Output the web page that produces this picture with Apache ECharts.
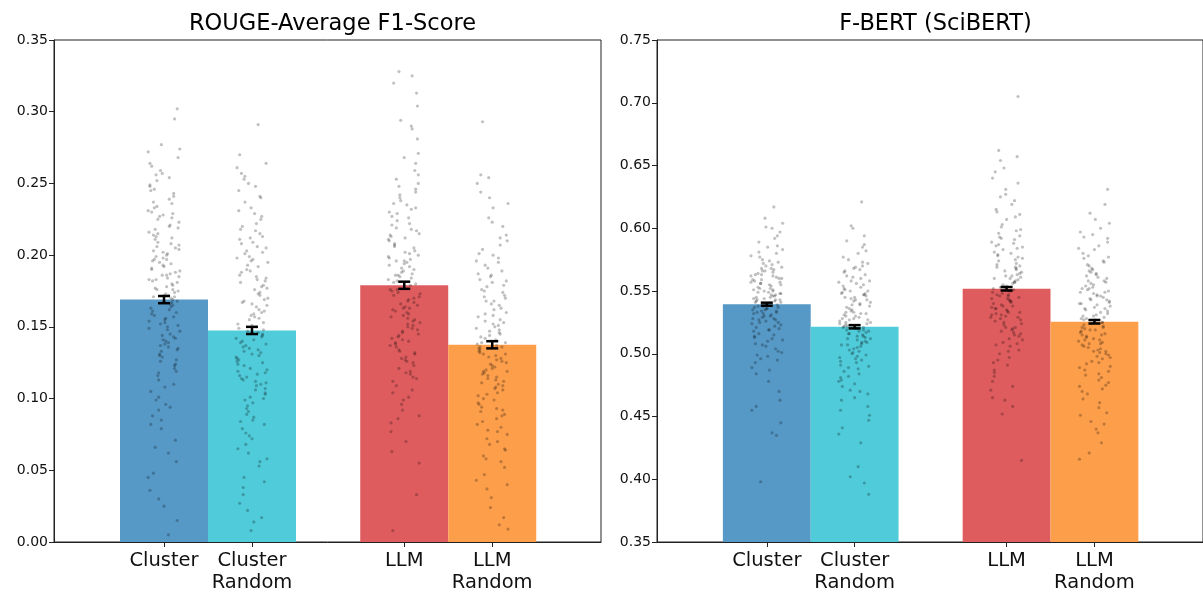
<!DOCTYPE html>
<html>
<head>
<meta charset="utf-8">
<script src="https://cdn.jsdelivr.net/npm/echarts@6/dist/echarts.min.js"></script>
<style>
html,body{margin:0;padding:0;background:#fff;}
#chart{width:1203px;height:594px;}
</style>
</head>
<body>
<div id="chart"></div>
<script>
// ---------------- DATA ----------------
const categories = ['Cluster', 'Cluster\nRandom', 'LLM', 'LLM\nRandom'];
const panelTitles = ['ROUGE-Average F1-Score', 'F-BERT (SciBERT)'];

// bar means
const rougeMeans = [0.169, 0.1475, 0.179, 0.1375];
const fbertMeans = [0.5395, 0.5215, 0.5518, 0.5255];
// standard errors
const rougeErr = [0.0025, 0.0025, 0.0025, 0.0025];
const fbertErr = [0.0012, 0.0013, 0.0014, 0.0014];

// y-axis ticks
const rougeTicks = {min: 0.00, max: 0.35, interval: 0.05};
const fbertTicks = {min: 0.35, max: 0.75, interval: 0.05};

// individual scores (in thousandths)
const rougeCluster = [214,187,302,133,169,248,96,176,205,141,223,158,62,191,236,118,172,295,149,201,
 183,127,257,164,88,219,195,138,177,243,105,162,209,274,152,186,45,229,171,124,
 198,145,264,181,113,156,233,167,79,207,190,136,252,174,25,216,160,99,184,227,
 143,196,268,129,170,211,153,82,239,188,116,178,203,147,259,165,36,221,193,134,
 246,173,92,212,159,185,277,139,199,121,231,168,56,206,150,182,241,130,175,218,
 108,194,163,254,144,71,225,179,154,200,15,237,166,126,189,213,140,262,157,101,
 180,228,135,197,5,249,171,85,208,161,192,119,234,148,272,176,131,204,66,220,
 186,142,245,155,110,215,168,48,197,137,226,183,94,256,151,202,123,230,172,30];
const rougeClusterRandom = [291,152,118,203,87,167,241,135,58,186,109,255,144,72,198,161,123,217,95,178,
 139,264,101,156,33,209,127,183,148,76,229,114,170,250,132,65,192,158,104,220,
 141,89,174,270,120,199,150,45,213,129,166,82,237,112,181,143,22,205,136,97,
 162,245,117,189,153,68,225,126,176,107,257,146,91,195,133,14,211,160,115,172,
 233,138,79,185,124,202,155,53,218,131,169,99,248,142,110,193,165,38,206,121,
 179,149,85,227,137,103,188,157,62,215,128,173,253,111,196,145,27,164,93,208,
 134,182,74,240,119,159,201,100,8,177,140,222,116,56,190,151,125,261,106,168,
 42,212,130,84,184,147,197,113,17,231];
const rougeLLM = [328,187,142,215,96,169,253,131,199,178,313,224,156,112,205,185,271,138,164,232,
 83,192,147,246,174,125,210,160,304,181,119,238,153,196,70,221,167,134,288,189,
 145,207,101,176,259,128,218,162,194,33,229,150,183,115,242,171,139,201,92,264,
 157,212,123,186,148,320,235,166,106,198,179,136,250,158,203,63,226,144,172,117,
 281,191,151,214,129,182,244,163,88,208,140,175,325,121,196,155,230,168,109,217,
 146,184,8,256,133,202,161,190,77,222,143,173,294,126,211,154,236,180,99,197,
 137,165,248,118,206,149,188,55,227,159,176,132,268,193,114,219,152,240,170,104,
 200,141,290,186,127,213,163,233,86,195];
const rougeLLMRandom = [293,137,102,174,68,148,256,121,89,193,141,43,163,114,210,131,77,185,153,96,
 233,126,58,170,139,107,254,145,82,198,118,160,31,220,134,93,178,111,151,64,
 240,128,187,99,142,17,166,119,204,86,136,155,72,181,109,250,130,47,172,124,
 146,91,214,116,158,60,189,135,104,168,9,226,122,149,80,176,112,140,195,97,
 131,37,162,117,207,144,75,183,127,154,106,223,138,52,171,113,191,88,143,125,
 24,165,100,200,133,70,179,120,150,94,236,129,56,157,110,186,139,84,168,103,
 212,132,40,147,115,175,92,196,123,65,159,108,244,136,78,182,119,152,12,201];

const fbertCluster = [617,541,523,566,498,549,580,532,512,556,604,538,487,562,527,545,573,506,551,535,
 463,568,519,543,592,530,501,558,547,525,586,540,455,560,516,552,575,534,493,548,
 608,528,564,510,544,571,537,398,555,521,583,539,504,559,546,526,597,533,478,563,
 542,514,569,550,531,589,495,557,536,520,577,545,508,561,529,445,553,540,567,518,
 600,535,502,556,543,524,574,548,484,565,532,511,581,549,537,435,559,522,570,541,
 499,554,528,594,544,515,563,536,470,552,530,578,547,507,560,538,437,566,525,551,
 585,533,496,557,542,519,572,546,489,562,527,555,601,539,513,568,534,458,550,543];
const fbertClusterRandom = [621,523,496,548,470,532,575,511,486,541,602,519,455,553,504,527,566,493,536,515,
 441,558,500,529,590,513,478,545,524,507,580,521,397,550,490,533,569,509,463,540,
 600,517,482,555,526,498,572,531,429,544,512,562,520,474,547,503,585,528,447,551,
 518,494,563,535,508,577,465,543,522,488,557,514,402,538,525,567,501,546,479,530,
 594,516,458,552,505,534,573,497,560,519,388,542,510,549,484,527,565,506,468,539,
 521,491,556,512,582,533,451,545,502,528,570,516,476,548,524,410,537,509,561,495,
 554,518,471,543,530,587,507,539,489,525,558,514,436,547,522,499,568,532,481,550];
const fbertLLM = [705,553,521,589,497,564,615,538,509,576,662,546,482,598,531,557,627,516,569,542,
 465,584,525,551,645,535,503,593,560,529,609,548,415,579,519,566,636,540,491,572,
 654,533,586,512,555,622,544,458,596,527,562,508,581,550,601,536,474,570,523,558,
 640,547,500,577,530,565,613,541,487,591,518,554,657,537,506,574,545,463,588,526,
 561,603,534,495,568,552,619,528,511,583,543,471,575,532,559,631,520,549,594,539,
 502,571,557,648,524,485,580,546,563,607,531,514,587,542,452,567,536,599,553,517,
 578,544,493,562,529,625,550,507,585,538,569,478,556,521,611,547,533,592,515,560];
const fbertLLMRandom = [631,527,498,556,472,540,600,513,486,548,619,521,457,566,506,533,589,494,545,517,
 440,571,502,530,604,511,479,552,525,508,583,536,416,561,492,543,595,515,464,550,
 612,519,483,558,528,501,578,538,446,547,510,574,523,475,555,504,597,532,421,563,
 520,496,568,541,507,586,468,549,526,489,560,514,437,544,529,580,499,553,481,535,
 607,518,461,557,505,539,576,497,565,522,451,546,512,592,487,531,570,509,470,542,
 524,493,562,516,584,537,453,551,503,530,573,519,477,554,527,429,540,511,567,500,
 558,521,474,546,534,593,508,543,490,528,564,515,444,552,525,502,577,536,484,549];

// horizontal jitter of the individual points (hundredths of a bar width)
const jitter = [-12,7,15,-3,10,-16,2,-8,13,-1,17,-11,5,-14,9,-6,0,12,-17,4,
 -9,14,-2,8,-13,16,-5,1,-10,11,-15,6,-7,18,-4,3,-18,10,-12,13,
 -1,7,-16,15,-6,2,-11,9,-3,17,-14,5,-8,12,0,-17,14,-9,4,-5,
 11,-13,16,-2,8,-10,1,-15,6,13,-7,3,-12,18,-4,10,-16,7,-1,15,
 -11,2,-6,9,-14,17,-3,5,-9,12,-18,0,14,-8,4,-13,11,-5,16,-10,
 1,8,-15,6,-2,13,-7,10,-17,3,15,-12,7,-4,18,-9,2,-14,11,-6,
 9,-1,16,-11,5,-16,12,-3,8,-13,0,14,-8,4,-18,10,-5,17,-10,6,
 -2,13,-15,1,11,-7,15,-12,3,-4,9,-17,7,-9,16,-1,12,-14,5,-6];

const barColors = ['#5698c6', '#50cbd9', '#df5c5e', '#fd9e4b'];

// ---------------- LAYOUT ----------------
const xPos = [0, 1, 2.73, 3.73];      // bar centres (bar width = 1)
const xMin = -1.25, xMax = 4.966;
const FONT = 'DejaVu Sans';

const panels = [
  {means: rougeMeans, err: rougeErr, ticks: rougeTicks, pts: [rougeCluster, rougeClusterRandom, rougeLLM, rougeLLMRandom]},
  {means: fbertMeans, err: fbertErr, ticks: fbertTicks, pts: [fbertCluster, fbertClusterRandom, fbertLLM, fbertLLMRandom]}
];

const grids = [
  {left: 54, top: 40, width: 547, height: 502},
  {left: 657, top: 40, width: 547, height: 502}
];

const option = {
  backgroundColor: '#fff',
  animation: false,
  title: panelTitles.map((t, i) => ({
    text: t,
    left: grids[i].left + grids[i].width / 2,
    textAlign: 'center',
    top: 8,
    textStyle: {fontFamily: FONT, fontSize: 22.5, fontWeight: 'normal', color: '#000'}
  })),
  grid: grids.map(g => Object.assign({show: true, borderColor: '#222', borderWidth: 1, backgroundColor: 'transparent'}, g)),
  xAxis: grids.map((g, i) => ({
    type: 'value', gridIndex: i, min: xMin, max: xMax, position: 'bottom',
    splitLine: {show: false},
    axisLine: {show: true, onZero: false, lineStyle: {color: '#222', width: 1}},
    axisTick: {show: true, customValues: xPos, length: 5, lineStyle: {color: '#222', width: 1}},
    axisLabel: {
      show: true, customValues: xPos, margin: 8,
      fontFamily: FONT, fontSize: 19.5, color: '#111', lineHeight: 22,
      formatter: v => {
        let best = 0;
        xPos.forEach((p, k) => { if (Math.abs(p - v) < Math.abs(xPos[best] - v)) best = k; });
        return categories[best];
      }
    }
  })),
  yAxis: panels.map((p, i) => ({
    type: 'value', gridIndex: i, min: p.ticks.min, max: p.ticks.max, interval: p.ticks.interval, position: 'left',
    splitLine: {show: false},
    axisLine: {show: true, onZero: false, lineStyle: {color: '#222', width: 1}},
    axisTick: {show: true, length: 5, lineStyle: {color: '#222', width: 1}},
    axisLabel: {fontFamily: FONT, fontSize: 14, color: '#111', margin: 6, formatter: v => v.toFixed(2)}
  })),
  series: []
};

panels.forEach((p, pi) => {
  // bars
  option.series.push({
    type: 'custom', xAxisIndex: pi, yAxisIndex: pi, z: 2,
    data: p.means.map((m, k) => [xPos[k], m, k]),
    renderItem: (params, api) => {
      const x = api.value(0), y = api.value(1), k = api.value(2);
      const a = api.coord([x - 0.5, y]);
      const b = api.coord([x + 0.5, p.ticks.min]);
      return {type: 'rect', shape: {x: a[0], y: a[1], width: b[0] - a[0], height: b[1] - a[1]},
              style: {fill: barColors[k]}};
    }
  });
  // individual points
  const pts = [];
  p.pts.forEach((arr, k) => {
    arr.forEach((v, j) => {
      const jt = jitter[(j + k * 41 + pi * 23) % jitter.length] / 100;
      pts.push([xPos[k] + jt, v / 1000]);
    });
  });
  option.series.push({
    type: 'scatter', xAxisIndex: pi, yAxisIndex: pi, z: 3,
    symbolSize: 3.2, silent: true,
    itemStyle: {color: 'rgba(0,0,0,0.3)'},
    data: pts
  });
  // error bars
  option.series.push({
    type: 'custom', xAxisIndex: pi, yAxisIndex: pi, z: 4,
    data: p.means.map((m, k) => [xPos[k], m, p.err[k]]),
    renderItem: (params, api) => {
      const x = api.value(0), y = api.value(1), e = api.value(2);
      const hi = api.coord([x, y + e]);
      const lo = api.coord([x, y - e]);
      const cap = 6;
      const st = {stroke: '#000', lineWidth: 2.5};
      return {type: 'group', children: [
        {type: 'line', shape: {x1: hi[0], y1: hi[1], x2: lo[0], y2: lo[1]}, style: st},
        {type: 'line', shape: {x1: hi[0] - cap, y1: hi[1], x2: hi[0] + cap, y2: hi[1]}, style: st},
        {type: 'line', shape: {x1: lo[0] - cap, y1: lo[1], x2: lo[0] + cap, y2: lo[1]}, style: st}
      ]};
    }
  });
});

const chart = echarts.init(document.getElementById('chart'));
chart.setOption(option);
</script>
</body>
</html>
